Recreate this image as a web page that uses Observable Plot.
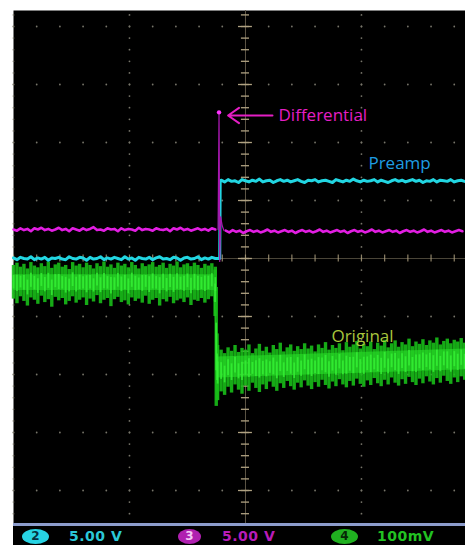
<!DOCTYPE html>
<html><head><meta charset="utf-8">
<script src="https://cdn.jsdelivr.net/npm/d3@7"></script>
<script src="https://cdn.jsdelivr.net/npm/@observablehq/plot@0.6"></script>
<style>
body{margin:0;background:#fff;}
#wrap{position:relative;width:465px;height:545px;overflow:hidden;}
.st{position:absolute;font-family:"DejaVu Sans",sans-serif;font-weight:bold;font-size:14px;line-height:17px;top:528px;letter-spacing:0.5px;}
.ov{position:absolute;top:529px;height:15px;border-radius:50%;text-align:center;font-family:"DejaVu Sans",sans-serif;font-weight:bold;font-size:12px;line-height:15px;}
</style></head>
<body>
<div id="wrap">
<div id="chart"></div>
<div style="position:absolute;left:13px;top:523px;width:452px;height:22px;background:#000;border-top:3px solid #8c9ccc;box-sizing:border-box"></div>
<div class="ov" style="left:22px;width:27px;background:#27d3e3;color:#063040">2</div>
<div class="st" style="left:69px;color:#2bc8d8">5.00 V</div>
<div class="ov" style="left:178px;width:23px;background:#b020b0;color:#f4c8f4">3</div>
<div class="st" style="left:222px;color:#b81cb8">5.00 V</div>
<div class="ov" style="left:331px;width:27px;background:#20b020;color:#062806">4</div>
<div class="st" style="left:377px;color:#22c222">100mV</div>
</div>
<script>
// Screen units: divisions (x: time div, y: vertical div)
const xMajor = [-2, -1, 0, 1];
const yMajor = [4, 3, 2, 1, 0, -1, -2, -3, -4];

// Channel 4 (green, "Original") envelope, pre-step (t from -2.00 every 0.03 div)
const greenPreHi = [-0.12,-0.08,-0.15,-0.10,-0.18,-0.07,-0.13,-0.16,-0.09,-0.14,
-0.06,-0.17,-0.11,-0.08,-0.15,-0.12,-0.19,-0.07,-0.13,-0.10,
-0.16,-0.08,-0.12,-0.18,-0.09,-0.14,-0.06,-0.15,-0.11,-0.17,
-0.08,-0.13,-0.10,-0.16,-0.07,-0.12,-0.18,-0.09,-0.14,-0.11,
-0.07,-0.15,-0.12,-0.08,-0.17,-0.10,-0.13,-0.06,-0.16,-0.11,
-0.09,-0.14,-0.08,-0.12,-0.17,-0.10,-0.13,-0.09,-0.15];
const greenPreLo = [-0.70,-0.78,-0.66,-0.74,-0.82,-0.68,-0.72,-0.79,-0.65,-0.76,
-0.71,-0.84,-0.67,-0.73,-0.69,-0.80,-0.74,-0.66,-0.77,-0.72,
-0.68,-0.81,-0.70,-0.75,-0.64,-0.78,-0.72,-0.69,-0.83,-0.71,
-0.67,-0.76,-0.73,-0.80,-0.68,-0.74,-0.70,-0.77,-0.65,-0.79,
-0.72,-0.69,-0.82,-0.71,-0.75,-0.67,-0.78,-0.73,-0.70,-0.76,
-0.68,-0.81,-0.72,-0.74,-0.69,-0.77,-0.71,-0.66,-0.75];
// falling edge
const greenEdgeT = [-0.262, -0.252, -0.245];
const greenEdgeHi = [-0.2, -0.5, -1.3];
const greenEdgeLo = [-1.0, -2.55, -2.45];
// post-step (t from -0.24 every 0.03 div)
const greenPostHi = [-1.50,-1.58,-1.64,-1.54,-1.60,-1.50,-1.62,-1.55,-1.58,-1.49,
-1.64,-1.56,-1.48,-1.60,-1.53,-1.63,-1.50,-1.57,-1.46,-1.61,
-1.54,-1.49,-1.60,-1.52,-1.57,-1.47,-1.56,-1.51,-1.61,-1.49,
-1.55,-1.45,-1.58,-1.50,-1.55,-1.47,-1.59,-1.45,-1.53,-1.49,
-1.43,-1.56,-1.48,-1.52,-1.44,-1.57,-1.46,-1.51,-1.41,-1.54,
-1.47,-1.42,-1.53,-1.45,-1.49,-1.39,-1.52,-1.44,-1.48,-1.40,
-1.50,-1.42,-1.46,-1.37,-1.49,-1.43,-1.39,-1.47,-1.41,-1.44,
-1.38,-1.46];
const greenPostLo = [-2.45,-2.30,-2.36,-2.22,-2.32,-2.18,-2.27,-2.34,-2.20,-2.29,
-2.15,-2.24,-2.31,-2.18,-2.26,-2.13,-2.22,-2.29,-2.16,-2.24,
-2.12,-2.21,-2.27,-2.15,-2.23,-2.11,-2.20,-2.26,-2.14,-2.22,
-2.10,-2.19,-2.25,-2.13,-2.21,-2.09,-2.18,-2.23,-2.12,-2.20,
-2.08,-2.17,-2.22,-2.11,-2.19,-2.07,-2.16,-2.21,-2.10,-2.18,
-2.06,-2.15,-2.20,-2.09,-2.17,-2.05,-2.14,-2.19,-2.08,-2.16,
-2.04,-2.13,-2.18,-2.07,-2.15,-2.03,-2.12,-2.17,-2.06,-2.14,
-2.04,-2.10];
// bright core of the green band
const greenCoreT = [-2.0, -0.27, -0.24, 1.9];
const greenCoreHi = [-0.28, -0.28, -1.70, -1.56];
const greenCoreLo = [-0.55, -0.55, -2.06, -1.92];

// Channel 2 (cyan, "Preamp"), every 0.03 div
const cyanPre = [0.01,-0.02,0.02,0.00,-0.01,0.03,-0.02,0.01,-0.01,0.02,
-0.03,0.01,0.00,0.02,-0.01,-0.02,0.03,0.00,-0.01,0.02,
0.01,-0.03,0.02,-0.01,0.00,0.03,-0.02,0.01,-0.01,0.02,
0.00,-0.02,0.03,-0.01,0.01,-0.03,0.02,0.00,-0.01,0.02,
-0.02,0.01,0.03,-0.01,0.00,-0.02,0.02,0.01,-0.03,0.01,
0.02,-0.01,0.00,0.03,-0.02,0.01,-0.01,0.02,0.00];
const cyanPost = [1.35,1.32,1.36,1.33,1.34,1.31,1.36,1.34,1.32,1.35,
1.33,1.37,1.32,1.34,1.35,1.31,1.34,1.36,1.33,1.35,
1.32,1.34,1.36,1.33,1.31,1.35,1.34,1.36,1.32,1.34,
1.35,1.33,1.31,1.36,1.34,1.32,1.35,1.33,1.37,1.34,
1.32,1.35,1.33,1.34,1.36,1.32,1.35,1.33,1.31,1.34,
1.36,1.33,1.35,1.32,1.34,1.36,1.33,1.35,1.31,1.34,
1.33,1.36,1.32,1.35,1.34,1.33,1.36,1.32,1.34,1.35,1.33];

// Channel 3 (magenta, "Differential"), every 0.03 div
const magPre = [0.50,0.48,0.52,0.49,0.51,0.47,0.52,0.50,0.53,0.49,
0.51,0.48,0.50,0.53,0.49,0.51,0.47,0.52,0.50,0.48,
0.52,0.49,0.51,0.54,0.49,0.50,0.48,0.52,0.50,0.51,
0.47,0.52,0.49,0.51,0.50,0.48,0.53,0.49,0.51,0.50,
0.48,0.52,0.50,0.49,0.51,0.47,0.52,0.50,0.53,0.49,
0.51,0.48,0.50,0.52,0.49,0.51,0.48,0.52,0.50];
const magPost = [0.48,0.45,0.49,0.46,0.48,0.44,0.47,0.49,0.46,0.48,
0.45,0.47,0.50,0.46,0.48,0.45,0.47,0.49,0.46,0.48,
0.44,0.47,0.49,0.46,0.48,0.45,0.47,0.50,0.46,0.48,
0.45,0.47,0.49,0.46,0.48,0.44,0.47,0.49,0.46,0.48,
0.45,0.47,0.50,0.46,0.48,0.45,0.47,0.49,0.46,0.48,
0.44,0.47,0.49,0.46,0.48,0.45,0.47,0.50,0.46,0.48,
0.45,0.47,0.49,0.46,0.48,0.45,0.47,0.49,0.47];
const spikeT = [-0.236, -0.228, -0.222, -0.214, -0.200, -0.185];
const spikeY = [0.50, 2.52, -0.05, 0.72, 0.56, 0.48];

const labels = [
  {text: "Differential", x: 0.285, y: 2.466, color: "#e41ec4"},
  {text: "Preamp", x: 1.06, y: 1.64, color: "#1e9de2"},
  {text: "Original", x: 0.741, y: -1.345, color: "#a8c63c"}
];
const arrow = [{x1: 0.233, x2: -0.15, y: 2.466}];

// build tables
const gPre = greenPreHi.map((h, i) => ({t: -2.0 + i * 0.03, hi: h, lo: greenPreLo[i]}));
const gEdge = greenEdgeT.map((t, i) => ({t, hi: greenEdgeHi[i], lo: greenEdgeLo[i]}));
const gPost = greenPostHi.map((h, i) => ({t: -0.24 + i * 0.03, hi: h, lo: greenPostLo[i]}));
const gAll = gPre.concat(gEdge, gPost);
const gCore = greenCoreT.map((t, i) => ({t, hi: greenCoreHi[i], lo: greenCoreLo[i]}));

const cyan = cyanPre.map((v, i) => ({t: -2.0 + i * 0.03, v}))
  .concat([{t: -0.222, v: 0.0}, {t: -0.218, v: 1.34}])
  .concat(cyanPost.map((v, i) => ({t: -0.21 + i * 0.03, v})));
const mag = magPre.map((v, i) => ({t: -2.0 + i * 0.03, v}));
const magAfter = magPost.map((v, i) => ({t: -0.17 + i * 0.03, v}));
const spike = spikeT.map((t, i) => ({t, v: spikeY[i]}));

// grid
const dotsV = [];
for (const x of xMajor) if (x !== 0) for (const y of d3.range(-4.4, 4.3, 0.2)) dotsV.push({x, y});
const dotsH = [];
for (const y of yMajor) if (y !== 0) for (const x of d3.range(-2, 1.95, 0.2)) dotsH.push({x, y});
const ticksOnV = d3.range(-4.4, 4.3, 0.2);
const ticksOnH = d3.range(-2, 1.95, 0.2);

const gridCol = "#77756a";
const tickCol = "#b0a282";

const chart = Plot.plot({
  width: 465, height: 523,
  marginTop: 10, marginLeft: 13, marginRight: 0, marginBottom: 0,
  x: {domain: [-2.0, 1.897], axis: null},
  y: {domain: [-4.569, 4.276], axis: null},
  style: {background: "#fff"},
  marks: [
    Plot.frame({fill: "#000", stroke: "none"}),
    Plot.dot(dotsV, {x: "x", y: "y", r: 0.9, fill: gridCol, stroke: "none"}),
    Plot.dot(dotsH, {x: "x", y: "y", r: 0.9, fill: gridCol, stroke: "none"}),
    Plot.ruleX([0], {stroke: "#5e5646", strokeWidth: 1}),
    Plot.ruleY([0], {stroke: "#4a4538", strokeWidth: 1}),
    Plot.ruleY(ticksOnV, {y: d => d, x1: -0.035, x2: 0.035, stroke: tickCol, strokeWidth: 1.3}),
    Plot.ruleX(ticksOnH, {x: d => d, y1: -0.06, y2: 0.06, stroke: tickCol, strokeWidth: 1.2, strokeOpacity: 0.8}),
    Plot.ruleY(yMajor, {y: d => d, x1: -0.06, x2: 0.06, stroke: tickCol, strokeWidth: 1.3}),
    // green
    Plot.ruleX(gAll, {x: "t", y1: "lo", y2: "hi", stroke: "#18bc18", strokeWidth: 3.4, strokeOpacity: 0.9}),
    Plot.areaY(gCore, {x: "t", y1: "lo", y2: "hi", fill: "#2ae02a", fillOpacity: 0.6, curve: "linear"}),
    Plot.ruleX(gAll, {x: "t", y1: d => d.lo * 0.3 + d.hi * 0.7, y2: d => d.hi * 0.3 + d.lo * 0.7, stroke: "#36f036", strokeWidth: 1.8, strokeOpacity: 0.8}),
    // cyan
    Plot.line(cyan, {x: "t", y: "v", stroke: "#22d6e2", strokeWidth: 3}),
    // magenta
    Plot.line(mag, {x: "t", y: "v", stroke: "#e21ee2", strokeWidth: 2.6}),
    Plot.line(magAfter, {x: "t", y: "v", stroke: "#e21ee2", strokeWidth: 2.6}),
    Plot.line(spike, {x: "t", y: "v", stroke: "#a818b0", strokeWidth: 1.2}),
    Plot.dot(spike.slice(1, 2), {x: "t", y: "v", r: 2.2, fill: "#ff33ff", stroke: "none"}),
    // labels
    Plot.arrow(arrow, {x1: "x1", x2: "x2", y1: "y", y2: "y", stroke: "#e41ec4", strokeWidth: 2, headLength: 10, headAngle: 70}),
    Plot.text(labels, {x: "x", y: "y", text: "text", fill: "color", textAnchor: "start", lineAnchor: "middle", fontSize: 17, fontFamily: "'Open Sans', sans-serif"})
  ]
});
document.getElementById("chart").appendChild(chart);
</script>
</body></html>
